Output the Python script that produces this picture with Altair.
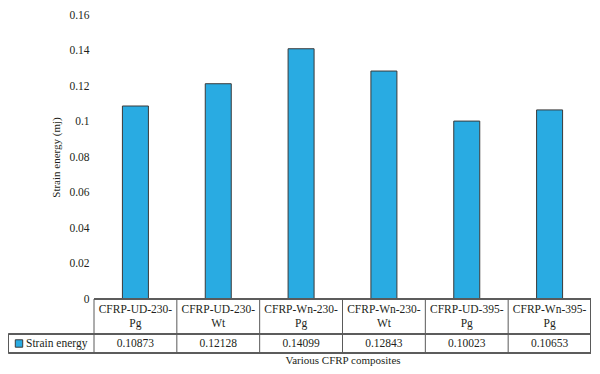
import altair as alt
import pandas as pd

categories = ["CFRP-UD-230-Pg", "CFRP-UD-230-Wt", "CFRP-Wn-230-Pg",
              "CFRP-Wn-230-Wt", "CFRP-UD-395-Pg", "CFRP-Wn-395-Pg"]
values = [0.10873, 0.12128, 0.14099, 0.12843, 0.10023, 0.10653]
value_labels = ["0.10873", "0.12128", "0.14099", "0.12843", "0.10023", "0.10653"]
series_name = "Strain energy"
y_title = "Strain energy (mj)"
x_title = "Various CFRP composites"

W, H = 497, 284
ROW1 = 35
ROW2 = 54
LEFT_PAD = 86
TOP_PAD = 7
FONT = "Liberation Serif, 'Times New Roman', serif"
BAR = "#29ABE2"
LINE = "#5a5a5a"
TXT = "#231f20"
LH = 14

df = pd.DataFrame({
    "cat": categories,
    "val": values,
    "vlabel": value_labels,
    "label": [c.rsplit("-", 1)[0] + "-\n" + c.rsplit("-", 1)[1] for c in categories],
})

xscale = alt.Scale(domain=categories, paddingInner=0, paddingOuter=0)
xenc = alt.X("cat:N", scale=xscale, sort=categories,
             axis=alt.Axis(labels=False, ticks=False, domain=False, title=x_title,
                           titleFont=FONT, titleFontSize=11, titleFontWeight="normal",
                           titleColor=TXT, titlePadding=55))

base = alt.Chart(df)

bars = base.mark_bar(size=26, color=BAR, stroke="#3a3a3a", strokeWidth=1).encode(
    x=xenc,
    y=alt.Y("val:Q", scale=alt.Scale(domain=[0, 0.16]),
            axis=alt.Axis(values=[0, 0.02, 0.04, 0.06, 0.08, 0.1, 0.12, 0.14, 0.16],
                          format="~g", grid=False, domain=False, ticks=False,
                          labelPadding=5, labelFont=FONT, labelFontSize=11.5,
                          labelColor=TXT, title=y_title, titleFont=FONT,
                          titleFontSize=11, titleFontWeight="normal",
                          titleColor=TXT, titlePadding=7)),
)

vlines = base.mark_rule(color=LINE, strokeWidth=1).encode(
    x=alt.X("cat:N", scale=xscale, sort=categories, bandPosition=0),
    y=alt.value(H), y2=alt.value(H + ROW2),
)
right_line = base.mark_rule(color=LINE, strokeWidth=1).encode(
    x=alt.value(W - 0.5), y=alt.value(H), y2=alt.value(H + ROW2),
)
left_legend_line = base.mark_rule(color=LINE, strokeWidth=1).encode(
    x=alt.value(-LEFT_PAD + 0.5), y=alt.value(H + ROW1), y2=alt.value(H + ROW2),
)
top_line = base.mark_rule(color=LINE, strokeWidth=1).encode(
    x=alt.value(0), x2=alt.value(W), y=alt.value(H),
)
mid_line = base.mark_rule(color=LINE, strokeWidth=1).encode(
    x=alt.value(-LEFT_PAD + 0.5), x2=alt.value(W), y=alt.value(H + ROW1),
)
bot_line = base.mark_rule(color=LINE, strokeWidth=1).encode(
    x=alt.value(-LEFT_PAD + 0.5), x2=alt.value(W), y=alt.value(H + ROW2),
)

cat_text = base.mark_text(font=FONT, fontSize=11.5, color=TXT, lineBreak="\n",
                          baseline="top", lineHeight=LH).encode(
    x=alt.X("cat:N", scale=xscale, sort=categories),
    y=alt.value(H + (ROW1 - 2 * LH) / 2 + 1),
    text="label:N",
)
val_text = base.mark_text(font=FONT, fontSize=11.5, color=TXT, baseline="middle").encode(
    x=alt.X("cat:N", scale=xscale, sort=categories),
    y=alt.value(H + (ROW1 + ROW2) / 2 + 0.5),
    text="vlabel:N",
)

legend_df = pd.DataFrame({"name": [series_name]})
legend_sq = alt.Chart(legend_df).mark_square(size=55, color=BAR, stroke="#3a3a3a",
                                             strokeWidth=1, opacity=1).encode(
    x=alt.value(-LEFT_PAD + 11), y=alt.value(H + (ROW1 + ROW2) / 2),
)
legend_txt = alt.Chart(legend_df).mark_text(font=FONT, fontSize=11.5, color=TXT,
                                            align="left", baseline="middle").encode(
    x=alt.value(-LEFT_PAD + 18), y=alt.value(H + (ROW1 + ROW2) / 2 + 0.5),
    text="name:N",
)

chart = alt.layer(bars, vlines, right_line, left_legend_line, top_line, mid_line,
                  bot_line, cat_text, val_text, legend_sq, legend_txt).properties(
    width=W, height=H,
    background="white",
    autosize=alt.AutoSizeParams(type="none"),
    padding={"left": LEFT_PAD, "top": TOP_PAD, "right": 1, "bottom": 358 - TOP_PAD - H},
).configure_view(stroke=None)

chart.save("out.html", embed_options={"renderer": "svg", "actions": False})
